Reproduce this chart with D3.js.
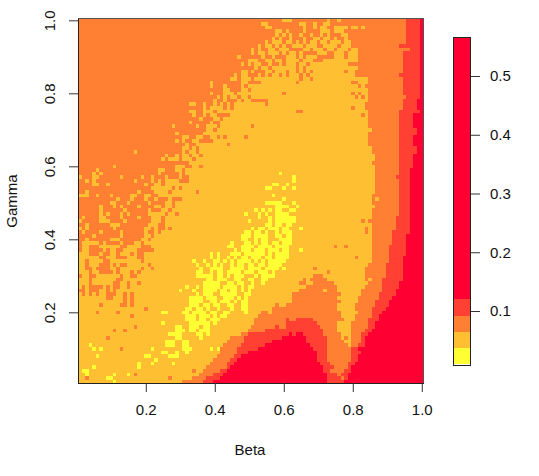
<!DOCTYPE html>
<html>
<head>
<meta charset="utf-8">
<script src="https://cdn.jsdelivr.net/npm/d3@7"></script>
<style>
    html, body { margin: 0; background: #fff; }
    text { font-family: "Liberation Sans", Arial, sans-serif; font-size: 15px; fill: #111; }
</style>
</head>
<body>
<div id="chart"></div>
<script>
// value classes: 1 yellow, 2 amber, 3 orange, 4 red-orange, 5 red
const binColors = ["#FFFF33", "#FFBF33", "#FF8033", "#FF4033", "#FF0033"];
const binBreaks = [0.0093, 0.0365, 0.0637, 0.0915, 0.12, 0.567];

const xTicks = [0.2, 0.4, 0.6, 0.8, 1.0];
const yTicks = [0.2, 0.4, 0.6, 0.8, 1.0];
const legendTicks = [0.1, 0.2, 0.3, 0.4, 0.5];

// one string per gamma row, top row first: "first class, then col:class where it changes"
const bandRows = [
    "3 95:4 99:5", "3 95:4 99:5", "3 95:4 99:5", "3 95:4 99:5",
    "3 57:2 78:3 95:4 99:5", "3 56:2 79:3 95:4 99:5", "3 54:2 80:3 95:4 99:5", "3 52:2 80:3 93:4 99:5",
    "3 50:2 81:3 96:4 99:5", "3 50:2 81:3 94:4 99:5", "3 50:2 81:3 94:4 99:5", "3 50:2 81:3 94:4 99:5",
    "3 50:2 80:3 94:4 99:5", "3 50:2 81:3 94:4 99:5", "3 50:2 80:3 94:4 99:5", "3 50:2 80:3 93:4 99:5",
    "3 50:2 84:3 94:4 99:5", "3 50:2 84:3 94:4 99:5", "3 50:2 83:3 94:4 99:5", "3 50:2 84:3 94:4 99:5",
    "3 50:2 84:3 94:4 99:5", "3 50:2 84:3 95:4 99:5", "3 49:2 84:3 94:4 98:5", "3 48:2 85:3 94:4 98:5",
    "3 45:2 86:3 94:4 98:5", "3 45:2 84:3 93:4 99:5", "3 44:2 84:3 93:4 97:5", "3 42:2 84:3 93:4 97:5",
    "3 41:2 84:3 93:4 97:5", "3 41:2 84:3 93:4 97:5", "3 40:2 85:3 93:4 98:5", "3 39:2 84:3 93:4 98:5",
    "3 39:2 84:3 93:4 97:5", "3 39:2 84:3 93:4 97:5", "3 35:2 84:3 93:4 97:5", "3 35:2 85:3 93:4 98:5",
    "3 35:2 85:3 93:4 98:5", "3 36:2 86:3 93:4 97:5", "3 34:2 86:3 93:4 97:5", "3 33:2 85:3 93:4 97:5",
    "3 33:2 86:3 93:4 97:5", "3 32:2 86:3 93:4 96:5", "3 32:2 86:3 93:4 96:5", "3 32:2 86:3 92:4 96:5",
    "3 32:2 86:3 93:4 96:5", "3 30:2 86:3 93:4 96:5", "3 30:2 86:3 93:4 96:5", "3 30:2 86:3 93:4 96:5",
    "3 30:2 85:3 93:4 96:5", "2 85:3 93:4 96:5",
    "2 85:3 93:4 96:5", "2 86:3 93:4 96:5", "2 85:3 93:4 96:5", "2 85:3 93:4 96:5",
    "2 85:3 92:4 96:5", "2 85:3 92:4 96:5", "2 85:3 92:4 96:5", "2 85:3 92:4 96:5",
    "2 85:3 91:4 96:5", "2 85:3 91:4 95:5", "2 85:3 91:4 95:5", "2 85:3 91:4 95:5",
    "2 85:3 90:4 95:5", "2 85:3 90:4 95:5", "2 85:3 90:4 95:5", "2 85:3 90:4 94:5",
    "2 85:3 90:4 94:5", "2 84:3 89:4 94:5", "2 83:3 89:4 94:5", "2 83:3 89:4 94:5",
    "2 68:3 71:2 83:3 89:4 94:5",
    "2 65:3 66:2 67:3 72:2 83:3 88:4 94:5",
    "2 64:3 66:2 68:3 74:2 84:3 88:4 93:5",
    "2 66:3 75:2 83:3 88:4 93:5",
    "2 64:3 71:2 72:3 75:2 82:3 88:4 92:5",
    "2 62:3 76:2 82:3 87:4 92:5",
    "2 62:3 75:2 81:3 87:4 91:5",
    "2 62:3 76:2 81:3 86:4 90:5",
    "2 57:3 58:2 60:3 75:2 80:3 86:4 90:5",
    "2 56:3 75:2 80:3 85:4 89:5",
    "2 53:3 55:2 56:3 76:2 81:3 85:4 88:5",
    "2 52:3 76:2 80:3 85:4 87:5",
    "2 51:3 60:4 61:3 63:4 68:3 77:2 80:3 84:4 87:5",
    "2 51:3 60:4 69:3 75:2 79:3 84:4 86:5",
    "2 50:3 57:4 58:3 60:4 70:3 75:2 79:3 84:4 86:5",
    "2 49:3 54:4 71:3 75:2 79:3 83:4 85:5",
    "2 47:3 49:4 61:5 62:4 63:5 65:4 71:3 76:2 79:3 82:4 84:5",
    "2 44:3 48:4 59:5 66:4 72:3 76:2 77:3 78:2 79:3 82:4 83:5",
    "2 43:3 48:4 56:5 66:4 72:3 77:2 79:3 82:4 83:5",
    "2 42:3 47:4 54:5 67:4 72:3 78:2 79:3 81:4 83:5",
    "2 41:3 46:4 52:5 68:4 72:3 79:4 81:5",
    "2 41:3 46:4 49:5 69:4 72:3 79:4 82:5",
    "2 40:3 45:4 47:5 69:4 72:3 79:4 81:5",
    "2 39:3 44:4 46:5 69:4 72:3 79:4 81:5",
    "2 38:3 43:4 45:5 70:4 73:3 78:4 80:5",
    "2 37:3 43:4 44:5 71:4 74:3 78:4 79:5",
    "2 36:3 41:4 43:5 71:4 73:3 77:4 79:5",
    "2 35:3 39:4 42:5 72:4 75:3 76:4 78:5",
    "2 33:3 37:4 41:5 72:4 76:3 77:4 78:5",
    "2 30:3 36:4 39:5 72:4 77:5"
];

// scattered cells on top of the bands, "row:cols"
const amberCells = [
    "0:59-61 72 75", "1:53-54 64-65 68 71-72", "2:54-55 65 68 70-71 74-77 79-80 82", "3:57-58 60 65 70-72 74-76",
    "10:46", "11:49", "12:47 49", "14:47-48", "15:45 47-48", "16:44-45 47-49", "17:38 47-48",
    "18:38 42 47 49", "19:42-43 47-48", "20:38 42-44 46-49", "21:40 42 44-45 47-48", "22:39 42 46 48",
    "23:32-33 36 39 41 43 45-47", "24:36 38-41 43", "25:32-33 36-38 40-44", "26:33 36 38-39", "27:35 39-40",
    "28:32 38", "29:27 34 37-39", "30:37-38", "31:28 36-38", "32:30-31 34-35 38", "33:28 30 33-34",
    "34:31 34", "35:30-31 33", "36:16 30 32-33", "37:25 28 30-31 33-34", "38:24 26-28 30-32", "39:32",
    "40:10 28-30", "41:5 23-24 28-29 31", "42:4 6 23 29 31", "43:0 4-5 12 18 21 25 29", "44:2 4 16 21 23 25-28",
    "45:4-5 8 19 22-23 25-29", "46:21-26 28", "47:2 17 22-25 27-29", "48:0-2 5 9 15-16 19-20 23-29",
    "71:84", "74:71", "49:86"
];

const orangeCells = [
    "4:58 60 62-63 65-66 68-69 71 73-75", "5:57 59-60 62-64 66-67 70 73 75-76 78", "6:55 59 62 64 66 69 72 76 79",
    "7:53 56 58 60-61 65 69-70 75 79", "8:51 53-54 57 61-64 67 71 74 78", "9:51 54 58 60 63 65-68 72-73 77",
    "10:50-52 54-55 57-59 63 65 69-73 77", "11:52-53 56 59 64 68-70", "12:50 53-54 56-57 59 63 66 78-79",
    "13:50 52 55 63 65", "14:51-53 56 60 63 65 67 77", "15:50-51 53 55 58 60 64 66", "16:50 64 67",
    "17:50-52 63 79-80", "18:81", "20:59 79 81", "21:80 82", "22:50-54", "23:54 83-84", "24:79 83-85",
    "25:63-64", "26:82", "29:50", "32:40 42 48", "34:43", "40:35", "47:34",
    "49:0-10 12-14 16-18 20-21 23-25 27-29", "50:0-8 11-13 15-19 21-24 27", "51:0-5 7-9 11 13-16 18-21 24 27",
    "52:0-5 7-12 14-19 21-23 26", "53:0-5 7 9-11 13 15-19 25 28", "54:0 2-5 8-11 13-16 18-20 24",
    "55:1-5 9-12 14-20 24 82 84", "56:0-1 3-8 12-19 23-24", "57:1 3-9 11-18 21 23-24 26 83", "58:0 2-5 7-11 13-18 20-21 23 83",
    "59:0-3 5-11 13-18 21", "60:0-1 3-8 12-17 20", "61:0 6 8-11 13-15 18", "62:0 3-5 12-13 18-20 74 77",
    "63:0 3-6 8 11-12 17-21", "64:3-5 7-8 11 15 17-18", "65:6-7 11-13 17-18 80", "66:2 7-8 18",
    "67:2 6-8 10 12-13 20", "68:2-3 5-8 11 18 21 68", "69:3 6-9 11 15 17 72", "70:0 3-4 12 15-16", "71:3 11-12",
    "72:3 10-11 14 17", "73:1 3-6 8 10-11 14", "74:0-1 3-5 8 10", "75:1 3 5 8-10 13 15", "76:8-9 13 15", "77:13 15",
    "78:6 12-13 15", "79:19", "80:5 11", "81:15", "84:16", "85:10 13", "87:8", "90:12", "96:33", "97:16", "98:2 26", "93:76"
];

const yellowCells = [
    "42:58", "43:62", "44:62", "45:56-57 60", "46:54-55 59 62", "48:56", "49:59", "50:54-58 62", "51:57-60 63",
    "52:51 53 55 57-58 61-62", "53:48 52 54 57-60", "54:52 55 57-62", "55:49 55 57-62", "56:54-55 57-58 60-61",
    "57:50 52-53 55-57 59-60 64", "58:48-49 51-52 54 57 59-61", "59:47-49 51-54 57-58 60-61", "60:47-48 51 53-54 58-61",
    "61:44 48-49 51 53-54 56-57 59-61", "62:43-44 47-50 52-55 57-60", "63:45 47-49 51-53 55-57 59-60 64",
    "64:38 40 44-46 48-53 55 57-60", "65:38 40 43 45 47-48 50-52 54-55 57-60", "66:33 36 39-40 42 44 46-49 51 53 55-59",
    "67:34 37 39 41 44 46-47 49-50 52-53 55-58", "68:35 38-41 44-47 49-52 54-57 59", "69:34-35 38 40-41 43-46 48-50 52-54 56",
    "70:34-36 37-38 40-41 43 45-47 51 53-54 55-56", "71:37-38 40-42 45-46 49-50 53-54", "72:36-40 43-44 46-47 50 53",
    "73:31 34 36-40 42-45 47 49-50", "74:29 33 36-39 41-42 44-45 47 49", "75:34 36-38 41-45 48-49", "76:32-35 37-39 42-44 46 48",
    "77:32-35 38-39 41-43 45 47-48", "78:32-34 36-37 39-40 43-44 47-48", "79:31-32 34-35 37 40 44 47-48", "80:24-25 30-31 33-36 38-39 42-43 48",
    "81:31-33 35-37 39 41-42", "82:31-33 35-36 38-40", "83:24 32-37 39", "84:28-29 32-34 36-37", "85:28-30 32-33 35-37", "86:26-29 34-35 37",
    "87:28-29 35", "88:25-27 30-31", "89:3 25-27 30-31", "90:4 6 21 30-32 38 40", "91:24-25 28 31", "92:5 19-20 26-28",
    "93:22", "94:17 21 27", "95:4 17", "96:1-2", "97:2 10 14", "98:8-9", "99:10"
];

function parseCols(text) {
    let cols = [];
    text.split(" ").forEach(part => {
        let [a, b] = part.split("-").map(Number);
        d3.range(a, (b === undefined ? a : b) + 1).forEach(c => cols.push(c));
    });
    return cols;
}

// build the 100x100 grid
let grid = bandRows.map(row => {
    let tokens = row.split(" ");
    let cells = new Array(100).fill(+tokens[0]);
    tokens.slice(1).forEach(t => {
        let [col, level] = t.split(":").map(Number);
        cells.fill(level, col);
    });
    return cells;
});

function overlay(list, level) {
    list.forEach(item => {
        let [row, cols] = item.split(":");
        parseCols(cols).forEach(c => { grid[+row][c] = level; });
    });
}
overlay(amberCells, 2);
overlay(orangeCells, 3);
overlay(yellowCells, 1);

const svg = d3.select("#chart")
    .append("svg")
    .attr("width", 539)
    .attr("height", 476);

const x = d3.scaleLinear().domain([0.005, 1.005]).range([78.5, 423.5]);
const y = d3.scaleLinear().domain([0.005, 1.005]).range([383.5, 18.5]);
const color = d3.scaleOrdinal().domain([1, 2, 3, 4, 5]).range(binColors);

let cells = [];
grid.forEach((row, r) => row.forEach((level, c) => {
    cells.push({beta: (c + 1) / 100, gamma: (100 - r) / 100, level: level});
}));

svg.append("g")
    .attr("shape-rendering", "crispEdges")
    .selectAll("rect")
    .data(cells)
    .join("rect")
    .attr("x", d => x(d.beta - 0.005))
    .attr("y", d => y(d.gamma + 0.005))
    .attr("width", d => x(d.beta + 0.005) - x(d.beta - 0.005))
    .attr("height", d => y(d.gamma - 0.005) - y(d.gamma + 0.005))
    .attr("fill", d => color(d.level));

svg.append("rect")
    .attr("x", 78.5).attr("y", 18.5)
    .attr("width", 345).attr("height", 365)
    .attr("fill", "none")
    .attr("stroke", "#555");

function styleAxis(g) {
    g.select(".domain").attr("stroke", "#222");
    g.selectAll(".tick line").attr("stroke", "#333");
}

svg.append("g")
    .attr("transform", "translate(0,383)")
    .call(d3.axisBottom(x).tickValues(xTicks).tickFormat(d3.format(".1f")).tickSize(9).tickSizeOuter(0).tickPadding(12))
    .call(styleAxis)
    .call(g => g.selectAll("text").attr("font-size", null).attr("fill", null));

svg.append("g")
    .attr("transform", "translate(78,0)")
    .call(d3.axisLeft(y).tickValues(yTicks).tickFormat(d3.format(".1f")).tickSize(9).tickSizeOuter(0).tickPadding(0))
    .call(styleAxis)
    .call(g => g.selectAll("text")
        .attr("fill", null)
        .attr("text-anchor", "middle")
        .attr("dy", 0)
        .attr("x", 0)
        .attr("y", 0)
        .attr("transform", "translate(-23,0) rotate(-90)"));

svg.append("text").attr("x", 250).attr("y", 455).attr("text-anchor", "middle").text("Beta");
svg.append("text")
    .attr("transform", "translate(17,201) rotate(-90)")
    .attr("text-anchor", "middle")
    .text("Gamma");

// colour key
const keyY = d3.scaleLinear().domain([0.1, 0.5]).range([311, 76]);
const keyBins = binColors.map((c, i) => ({color: c, low: binBreaks[i], high: binBreaks[i + 1]}));

svg.append("g")
    .attr("shape-rendering", "crispEdges")
    .selectAll("rect")
    .data(keyBins)
    .join("rect")
    .attr("x", 453.5)
    .attr("width", 17)
    .attr("y", d => keyY(d.high))
    .attr("height", d => keyY(d.low) - keyY(d.high))
    .attr("fill", d => d.color);

svg.append("rect")
    .attr("x", 453.5).attr("y", Math.round(keyY(binBreaks[5])) + 0.5)
    .attr("width", 17)
    .attr("height", Math.round(keyY(binBreaks[0]) - keyY(binBreaks[5])))
    .attr("fill", "none")
    .attr("stroke", "#222");

svg.append("g")
    .attr("transform", "translate(471,0)")
    .call(d3.axisRight(keyY).tickValues(legendTicks).tickFormat(d3.format(".1f")).tickSize(9).tickSizeOuter(0).tickPadding(10))
    .call(g => g.select(".domain").remove())
    .call(g => g.selectAll(".tick line").attr("stroke", "#333"))
    .call(g => g.selectAll("text").attr("font-size", null).attr("fill", null));
</script>
</body>
</html>
